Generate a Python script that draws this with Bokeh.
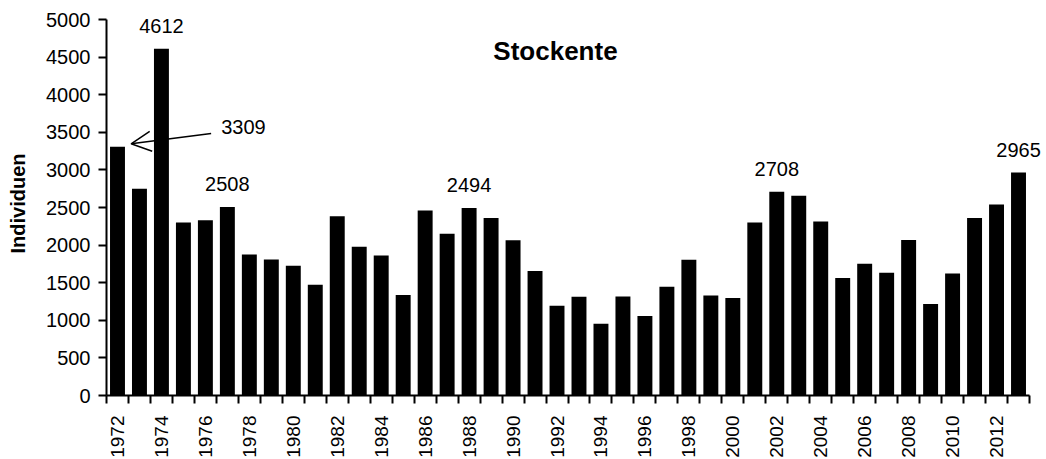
import math
from bokeh.plotting import figure
from bokeh.models import (ColumnDataSource, Range1d, FixedTicker, LabelSet,
                          Arrow, OpenHead)
from bokeh.core.properties import value
from bokeh.embed import file_html
from bokeh.resources import INLINE

# ---- data ----
years = list(range(1972, 2014))
values = [3309, 2750, 4612, 2300, 2330, 2508, 1876, 1810, 1726, 1473,
          2382, 1979, 1863, 1336, 2461, 2152, 2494, 2360, 2063, 1655,
          1194, 1314, 955, 1318, 1057, 1447, 1806, 1331, 1296, 2302,
          2708, 2657, 2315, 1562, 1753, 1633, 2067, 1216, 1624, 2360,
          2541, 2965]
labelled_years = [1974, 1977, 1988, 2002, 2013]
arrow_year = 1972
y_ticks = list(range(0, 5001, 500))
x_label_years = list(range(1972, 2013, 2))
title_text = "Stockente"
y_title = "Individuen"

FONT = "Liberation Sans"

# layout (pixels)
PX_PER_YEAR = 923 / 42
PX_PER_UNIT = 376 / 5000
EXTRA_RIGHT_PX = 15
EXTRA_TOP_PX = 8

x0, x1 = years[0] - 0.5, years[-1] + 0.5
y0, y1 = 0, 5000

src = ColumnDataSource(dict(year=years, value=values))
lab_vals = [values[years.index(y)] for y in labelled_years]
lab_src = ColumnDataSource(dict(year=labelled_years, value=lab_vals,
                                text=[str(v) for v in lab_vals]))

p = figure(frame_width=923 + EXTRA_RIGHT_PX, frame_height=376 + EXTRA_TOP_PX,
           output_backend="svg", toolbar_location=None,
           x_range=Range1d(x0, x1 + EXTRA_RIGHT_PX / PX_PER_YEAR),
           y_range=Range1d(y0, y1 + EXTRA_TOP_PX / PX_PER_UNIT),
           min_border_left=106, min_border_right=0,
           min_border_top=11, min_border_bottom=0)
p.outline_line_color = None
p.xgrid.visible = False
p.ygrid.visible = False
p.background_fill_color = "white"
p.border_fill_color = "white"

p.vbar(x="year", top="value", width=0.68, bottom=0, source=src,
       fill_color="black", line_color=None)

# y axis
ya = p.yaxis[0]
ya.bounds = (y0, y1)
ya.ticker = FixedTicker(ticks=y_ticks)
ya.axis_line_width = 2
ya.axis_line_color = "black"
ya.major_tick_line_width = 2
ya.major_tick_out = 8
ya.major_tick_in = 0
ya.minor_tick_line_color = None
ya.major_label_text_font = FONT
ya.major_label_text_font_size = "20px"
ya.major_label_text_color = "black"
ya.major_label_standoff = 8
ya.axis_label = y_title
ya.axis_label_text_font = FONT
ya.axis_label_text_font_style = "bold"
ya.axis_label_text_font_size = "20px"
ya.axis_label_text_color = "black"
ya.axis_label_standoff = 14

# x axis
xa = p.xaxis[0]
xa.bounds = (x0, x1)
xa.ticker = FixedTicker(ticks=x_label_years,
                        minor_ticks=[y - 0.5 for y in years] + [years[-1] + 0.5])
xa.axis_line_width = 2
xa.axis_line_color = "black"
xa.major_tick_out = 0
xa.major_tick_in = 0
xa.minor_tick_out = 8
xa.minor_tick_in = 0
xa.minor_tick_line_width = 2
xa.minor_tick_line_color = "black"
xa.major_label_orientation = math.pi / 2
xa.major_label_standoff = 12
xa.major_label_text_font = FONT
xa.major_label_text_font_size = "19px"
xa.major_label_text_color = "black"

# value labels
p.add_layout(LabelSet(x="year", y="value", text="text", source=lab_src,
                      y_offset=16, text_align="center", text_baseline="alphabetic",
                      text_font=value(FONT), text_font_size=value("20px"),
                      text_color="black"))

# arrow annotation for first year
av = values[years.index(arrow_year)]
p.add_layout(Arrow(end=OpenHead(size=20, line_width=1.5, line_color="black"),
                   x_start=arrow_year + 4.26, y_start=av + 175,
                   x_end=arrow_year + 0.62, y_end=av + 38,
                   line_width=1.5, line_color="black"))
arrow_src = ColumnDataSource(dict(x=[arrow_year + 4.72], y=[av + 175], text=[str(av)]))
p.add_layout(LabelSet(x="x", y="y", text="text", source=arrow_src,
                      text_align="left", text_baseline="alphabetic",
                      text_font=value(FONT), text_font_size=value("20px"),
                      text_color="black"))

# title inside the plot
title_src = ColumnDataSource(dict(x=[(years[0] + years[-1]) / 2 - 0.57], y=[4468],
                                  text=[title_text]))
p.add_layout(LabelSet(x="x", y="y", text="text", source=title_src,
                      text_align="center", text_baseline="alphabetic",
                      text_font=value(FONT), text_font_style="bold",
                      text_font_size=value("26px"), text_color="black"))

open("out.html", "w").write(file_html(p, INLINE))
